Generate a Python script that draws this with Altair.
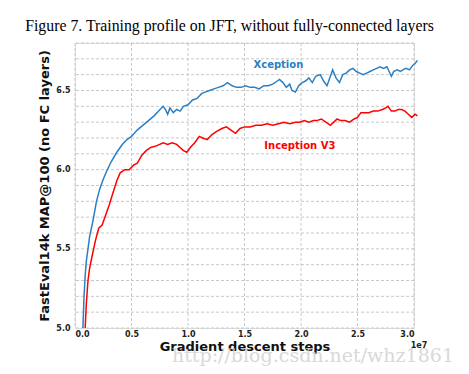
import altair as alt
import pandas as pd

# Xception (blue)
xcep_x = [0.07,0.08,0.09,0.10,0.115,0.13,0.16,0.19,0.22,0.25,
          0.28,0.32,0.37,0.42,0.46,0.50,0.55,0.60,0.65,0.70,
          0.74,0.78,0.80,0.82,0.84,0.87,0.90,0.93,0.96,1.00,
          1.04,1.08,1.12,1.15,1.19,1.23,1.27,1.31,1.35,1.39,
          1.43,1.47,1.51,1.55,1.59,1.63,1.67,1.71,1.75,1.79,
          1.81,1.84,1.87,1.90,1.92,1.95,1.98,2.01,2.04,2.07,
          2.10,2.13,2.17,2.20,2.23,2.26,2.28,2.31,2.34,2.37,
          2.40,2.43,2.46,2.49,2.52,2.55,2.58,2.61,2.64,2.67,
          2.70,2.73,2.76,2.78,2.80,2.82,2.85,2.88,2.90,2.93,
          2.96,2.99,3.01,3.03]
xcep_y = [5.00,5.20,5.33,5.42,5.50,5.58,5.68,5.80,5.88,5.94,
          5.99,6.05,6.11,6.16,6.19,6.21,6.25,6.28,6.31,6.34,
          6.37,6.40,6.38,6.35,6.39,6.36,6.38,6.37,6.40,6.41,
          6.44,6.45,6.48,6.49,6.50,6.51,6.52,6.53,6.55,6.53,
          6.52,6.52,6.53,6.52,6.52,6.51,6.53,6.53,6.54,6.56,
          6.57,6.55,6.52,6.54,6.50,6.49,6.53,6.55,6.56,6.58,
          6.55,6.59,6.60,6.56,6.53,6.59,6.63,6.58,6.55,6.60,
          6.61,6.63,6.64,6.62,6.61,6.60,6.61,6.62,6.63,6.64,
          6.65,6.64,6.65,6.62,6.59,6.62,6.63,6.62,6.63,6.64,
          6.63,6.66,6.67,6.69]

# Inception V3 (red)
incep_x = [0.09,0.10,0.115,0.13,0.15,0.18,0.21,0.24,0.27,0.30,
           0.33,0.37,0.40,0.44,0.48,0.52,0.55,0.59,0.63,0.67,
           0.72,0.75,0.78,0.82,0.86,0.90,0.93,0.96,0.99,1.02,
           1.06,1.10,1.13,1.17,1.21,1.25,1.30,1.34,1.38,1.42,
           1.46,1.50,1.55,1.60,1.65,1.70,1.75,1.80,1.85,1.90,
           1.95,1.99,2.03,2.07,2.11,2.14,2.18,2.22,2.26,2.29,
           2.32,2.35,2.39,2.43,2.47,2.50,2.53,2.56,2.60,2.64,
           2.68,2.72,2.75,2.77,2.80,2.83,2.86,2.89,2.92,2.95,
           2.98,3.01,3.03]
incep_y = [5.00,5.15,5.30,5.38,5.45,5.55,5.63,5.65,5.71,5.77,
           5.84,5.93,5.98,6.00,6.00,6.03,6.04,6.09,6.12,6.14,
           6.15,6.16,6.17,6.16,6.17,6.16,6.14,6.12,6.11,6.14,
           6.17,6.21,6.20,6.19,6.22,6.24,6.26,6.27,6.25,6.23,
           6.26,6.27,6.27,6.28,6.28,6.29,6.28,6.29,6.30,6.29,
           6.30,6.30,6.31,6.30,6.31,6.31,6.32,6.30,6.28,6.30,
           6.32,6.31,6.31,6.30,6.32,6.33,6.36,6.36,6.36,6.37,
           6.37,6.38,6.39,6.40,6.37,6.37,6.38,6.38,6.37,6.35,
           6.33,6.35,6.34]

series_names = ["Xception", "Inception V3"]
series_colors = ["#2b7fc3", "#ff0000"]
label_x = [1.80, 1.99]
label_y = [6.66, 6.15]

x_ticks = [0.0, 0.5, 1.0, 1.5, 2.0, 2.5, 3.0]
y_ticks = [5.0, 5.5, 6.0, 6.5]
y_grid = [round(5.0 + 0.1 * i, 1) for i in range(19)]

df = pd.concat([
    pd.DataFrame({"x": xcep_x, "y": xcep_y, "s": "Xception", "o": range(len(xcep_x))}),
    pd.DataFrame({"x": incep_x, "y": incep_y, "s": "Inception V3", "o": range(len(incep_x))}),
])
lab = pd.DataFrame({"x": label_x, "y": label_y, "s": series_names})

color = alt.Color("s:N", scale=alt.Scale(domain=series_names, range=series_colors), legend=None)
xs = alt.Scale(domain=[0, 3.0], nice=False, zero=False)
ys = alt.Scale(domain=[5.0, 6.8], nice=False, zero=False)

ax_kw = dict(grid=False, domain=False, ticks=False, labelFont="DejaVu Sans", labelFontWeight="bold",
             labelFontSize=8, labelColor="#222", titleFont="DejaVu Sans", labelOverlap=False,
             titleFontWeight="bold", titleFontSize=13, titleColor="#111")

grid_style = dict(strokeDash=[3, 2], color="#c8c8c8", strokeWidth=1)
hgrid = alt.Chart(pd.DataFrame({"y": y_grid})).mark_rule(**grid_style).encode(
    y=alt.Y("y:Q", scale=ys))
vgrid = alt.Chart(pd.DataFrame({"x": x_ticks})).mark_rule(**grid_style).encode(
    x=alt.X("x:Q", scale=xs))

lines = alt.Chart(df).mark_line(strokeWidth=1.5).encode(
    x=alt.X("x:Q", scale=xs, axis=alt.Axis(values=x_ticks, format=".1f",
            title="Gradient descent steps", labelPadding=2, titlePadding=2, **ax_kw)),
    y=alt.Y("y:Q", scale=ys, axis=alt.Axis(values=y_ticks, format=".1f",
            title="FastEval14k MAP@100 (no FC layers)", labelPadding=5, titlePadding=4, **ax_kw)),
    color=color,
    order="o:Q",
)

labels = alt.Chart(lab).mark_text(font="DejaVu Sans", fontWeight="bold", fontSize=10).encode(
    x=alt.X("x:Q", scale=xs), y=alt.Y("y:Q", scale=ys), text="s:N", color=color)

offset_df = pd.DataFrame({"x": [3.0], "y": [5.0], "t": ["1e7"]})
offset_txt = alt.Chart(offset_df).mark_text(font="DejaVu Sans", fontWeight="bold", fontSize=8,
                                            dx=5, dy=18, color="#222").encode(
    x=alt.X("x:Q", scale=xs), y=alt.Y("y:Q", scale=ys), text="t:N")

wm_df = pd.DataFrame({"t": ["http://blog.csdn.net/whz1861"]})
watermark = alt.Chart(wm_df).mark_text(font="DejaVu Serif", fontSize=19, align="left",
                                       baseline="middle", color="#d0d0d0", opacity=0.8).encode(
    x=alt.value(97), y=alt.value(313), text="t:N")

chart = alt.layer(hgrid, vgrid, lines, labels, offset_txt, watermark).properties(
    width=339, height=285,
    title=alt.TitleParams("Figure 7. Training profile on JFT, without fully-connected layers",
                          font="Liberation Serif", fontSize=15.8, fontWeight="normal",
                          color="#000", anchor="middle", dx=-15, offset=8),
    autosize=alt.AutoSizeParams(type="none"),
    padding={"left": 67, "top": 35, "right": 47, "bottom": 38},
).configure_view(stroke=None).configure(background="white")

chart.save("out.html", embed_options={"renderer": "svg", "actions": False})
